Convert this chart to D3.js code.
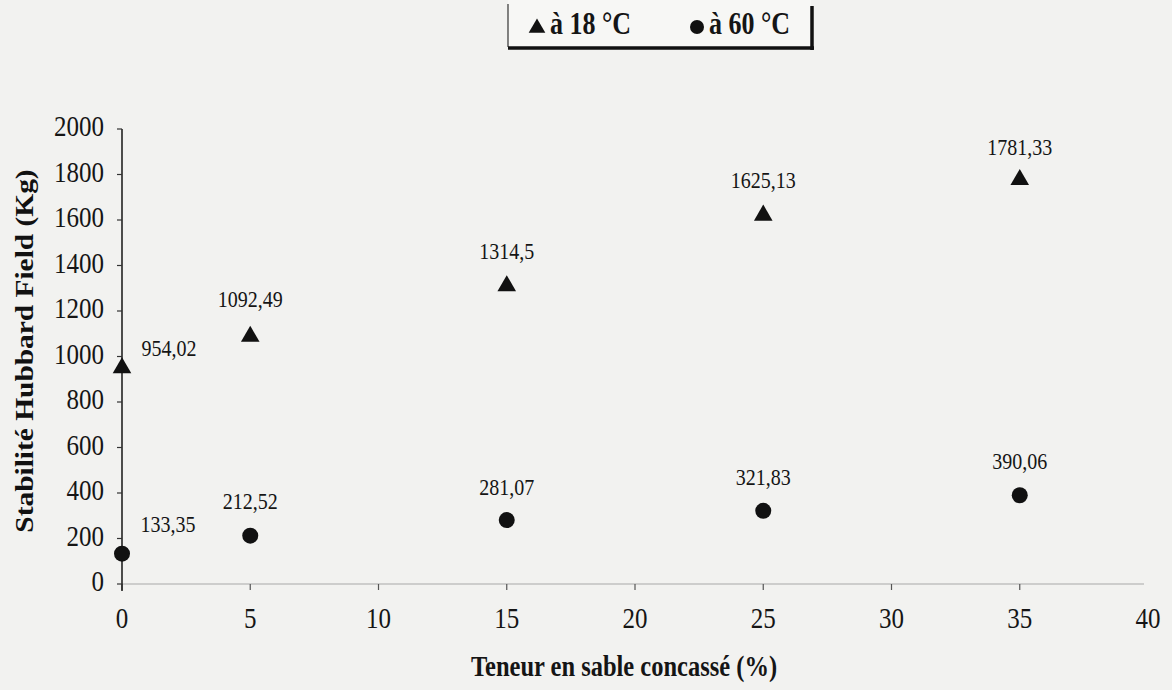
<!DOCTYPE html>
<html><head><meta charset="utf-8">
<script src="https://cdn.jsdelivr.net/npm/d3@7"></script>
<style>
body{margin:0;background:#f2f2f0;}
svg{display:block;}
</style></head>
<body>
<svg id="c" width="1172" height="690"></svg>
<script>
const xValues = [0, 5, 15, 25, 35];
const series18 = [954.02, 1092.49, 1314.5, 1625.13, 1781.33];
const series60 = [133.35, 212.52, 281.07, 321.83, 390.06];
const labels18 = ["954,02", "1092,49", "1314,5", "1625,13", "1781,33"];
const labels60 = ["133,35", "212,52", "281,07", "321,83", "390,06"];
const xTicks = [0, 5, 10, 15, 20, 25, 30, 35, 40];
const yTicks = [0, 200, 400, 600, 800, 1000, 1200, 1400, 1600, 1800, 2000];
const legendLabels = ["à 18 °C", "à 60 °C"];

// label layout (offsets in px relative to point)
const lab18Off = [[47, -11], [0, -28], [0, -26], [0, -26], [0, -24]];
const lab60Off = [[46, -22], [0, -27], [0, -25], [0, -26], [0, -26]];

const svg = d3.select("#c");
const serif = "'Liberation Serif', 'Times New Roman', serif";
const SY = 1.2; // vertical stretch of text

const x = d3.scaleLinear().domain([0, 40]).range([122, 1148]);
const y = d3.scaleLinear().domain([0, 2000]).range([584, 129]);

function txt(sel, px, py, s, size, weight, anchor) {
  return sel.append("text")
    .attr("transform", `translate(${px},${py}) scale(1,${SY})`)
    .attr("text-anchor", anchor || "middle")
    .attr("font-family", serif).attr("font-size", size)
    .attr("font-weight", weight || "normal").attr("fill", "#151515")
    .text(s);
}

// x axis line (light)
svg.append("line").attr("x1", x(0)).attr("x2", x(40) - 4).attr("y1", y(0)).attr("y2", y(0))
  .attr("stroke", "#a8a8a8").attr("stroke-width", 1.2);
svg.selectAll(".xt").data(xTicks.slice(0, -1)).enter().append("line")
  .attr("x1", d => x(d)).attr("x2", d => x(d)).attr("y1", y(0)).attr("y2", y(0) + 6)
  .attr("stroke", "#555").attr("stroke-width", 1.2);
xTicks.forEach(d => txt(svg, x(d), 628, d, 25, "normal"));

// y axis
svg.append("line").attr("x1", x(0)).attr("x2", x(0)).attr("y1", y(0) + 7).attr("y2", y(2000))
  .attr("stroke", "#222").attr("stroke-width", 1.6);
svg.selectAll(".yt").data(yTicks).enter().append("line")
  .attr("x1", x(0) - 5).attr("x2", x(0)).attr("y1", d => y(d)).attr("y2", d => y(d))
  .attr("stroke", "#333").attr("stroke-width", 1.2);
yTicks.forEach(d => txt(svg, 104, y(d) + 7, d, 25, "normal", "end"));

// axis titles
txt(svg, 624, 676, "Teneur en sable concassé (%)", 24.5, "bold");
svg.append("text").attr("transform", `translate(33,351) rotate(-90) scale(${SY},1)`).attr("text-anchor", "middle")
  .attr("font-family", serif).attr("font-size", 24.5).attr("font-weight", "bold").attr("fill", "#111")
  .text("Stabilité Hubbard Field (Kg)");

// markers
const tri = d3.symbol().type(d3.symbolTriangle).size(150);
svg.selectAll(".tri").data(xValues).enter().append("path")
  .attr("d", tri).attr("transform", (d, i) => `translate(${x(d)},${y(series18[i]) + 1})`)
  .attr("fill", "#111");
svg.selectAll(".cir").data(xValues).enter().append("circle")
  .attr("cx", d => x(d)).attr("cy", (d, i) => y(series60[i])).attr("r", 8)
  .attr("fill", "#111");

// data labels
xValues.forEach((d, i) => {
  txt(svg, x(d) + lab18Off[i][0], y(series18[i]) + lab18Off[i][1], labels18[i], 20, "normal");
  txt(svg, x(d) + lab60Off[i][0], y(series60[i]) + lab60Off[i][1], labels60[i], 20, "normal");
});

// legend
const lg = svg.append("g");
lg.append("rect").attr("x", 508).attr("y", 0).attr("width", 303).attr("height", 47).attr("fill", "#f7f7f5");
lg.append("line").attr("x1", 508).attr("x2", 508).attr("y1", 4).attr("y2", 47).attr("stroke", "#333").attr("stroke-width", 1.2);
lg.append("line").attr("x1", 812).attr("x2", 812).attr("y1", 6).attr("y2", 50).attr("stroke", "#111").attr("stroke-width", 3.5);
lg.append("line").attr("x1", 508).attr("x2", 814).attr("y1", 48).attr("y2", 48).attr("stroke", "#111").attr("stroke-width", 3.5);
lg.append("path").attr("d", d3.symbol().type(d3.symbolTriangle).size(120))
  .attr("transform", "translate(537,28)").attr("fill", "#111");
txt(lg, 550, 34, legendLabels[0], 26, "bold", "start");
lg.append("circle").attr("cx", 697).attr("cy", 27).attr("r", 7).attr("fill", "#111");
txt(lg, 709, 34, legendLabels[1], 26, "bold", "start");
</script>
</body></html>
